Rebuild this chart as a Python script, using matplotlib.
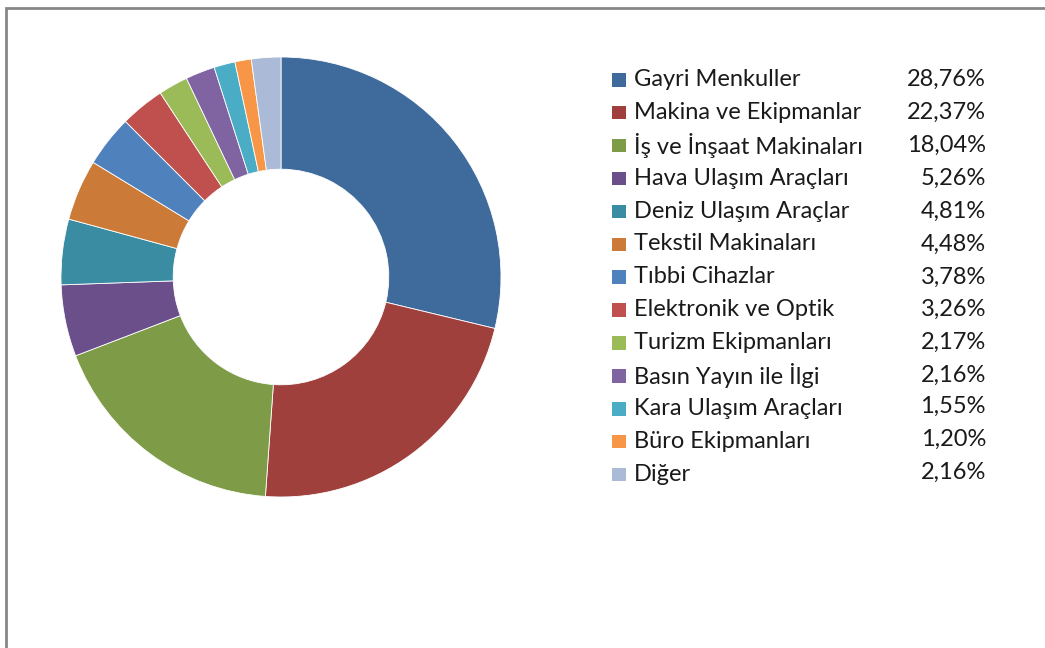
import matplotlib
matplotlib.use("Agg")
import matplotlib.pyplot as plt
from matplotlib.patches import Rectangle, Wedge

labels = ["Gayri Menkuller", "Makina ve Ekipmanlar", "İş ve İnşaat Makinaları",
          "Hava Ulaşım Araçları", "Deniz Ulaşım Araçlar", "Tekstil Makinaları",
          "Tıbbi Cihazlar", "Elektronik ve Optik", "Turizm Ekipmanları",
          "Basın Yayın ile İlgi", "Kara Ulaşım Araçları", "Büro Ekipmanları", "Diğer"]
values = [28.76, 22.37, 18.04, 5.26, 4.81, 4.48, 3.78, 3.26, 2.17, 2.16, 1.55, 1.20, 2.16]
pct_labels = ["28,76%", "22,37%", "18,04%", "5,26%", "4,81%", "4,48%", "3,78%",
              "3,26%", "2,17%", "2,16%", "1,55%", "1,20%", "2,16%"]
colors = ["#3F6A9C", "#9F403D", "#7E9B48", "#6A4F8A", "#3A8CA3", "#CB7B37",
          "#4F81BD", "#C0504D", "#9BBB59", "#8064A2", "#4BACC6", "#F79646", "#AABAD7"]

W, H = 1045, 648
fig = plt.figure(figsize=(W / 100, H / 100), dpi=100)
plt.rcParams['font.family'] = ['Lato', 'DejaVu Sans']

# frame
fig.patches.append(Rectangle((5.5 / W, -0.1), 1.2, 1 - 7.5 / H + 0.1,
                             transform=fig.transFigure, fill=False,
                             edgecolor="#878787", linewidth=2))

cx, cy, r = 281, 277, 220
ax = fig.add_axes([(cx - r) / W, (H - cy - r) / H, 2 * r / W, 2 * r / H])
ax.pie(values, colors=colors, startangle=90, counterclock=False, radius=1,
       wedgeprops=dict(width=0.51, edgecolor="white", linewidth=0.6))
ax.set_xlim(-1, 1)
ax.set_ylim(-1, 1)
ax.set_axis_off()

y0, dy = 79.5, 32.9
for i, (lab, pct, col) in enumerate(zip(labels, pct_labels, colors)):
    y = y0 + i * dy
    fig.patches.append(Rectangle((612 / W, (H - y - 7) / H), 13.5 / W, 13.5 / H,
                                 transform=fig.transFigure, facecolor=col,
                                 edgecolor="none"))
    fig.text(634 / W, (H - y) / H, lab, fontsize=17, va="center", ha="left",
             color="#1a1a1a")
    off = 2 if i >= 10 else 0
    fig.text(986 / W, (H - y + off) / H, pct, fontsize=17, va="center", ha="right",
             color="#1a1a1a")

fig.savefig("out.png", dpi=100)
